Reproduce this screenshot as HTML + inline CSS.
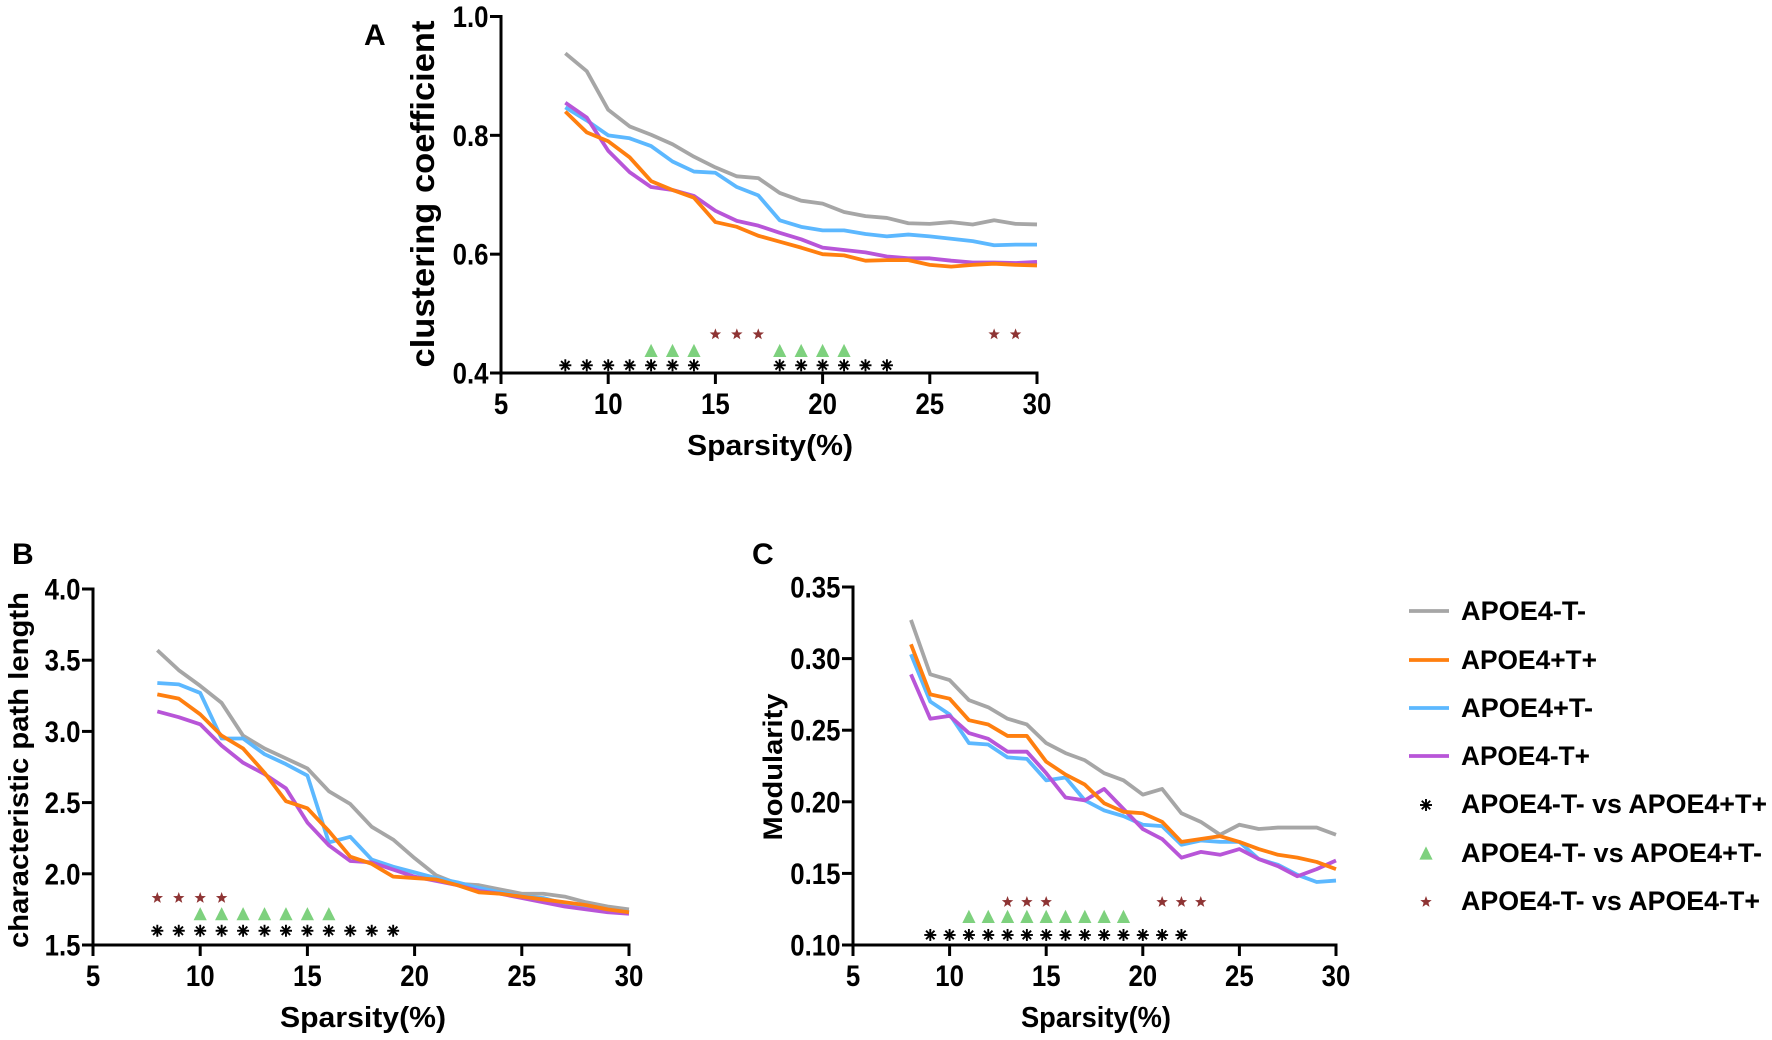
<!DOCTYPE html>
<html>
<head>
<meta charset="utf-8">
<title>Network metrics by sparsity</title>
<style>
html,body{margin:0;padding:0;background:#fff;}
svg{display:block;}
text{font-family:"Liberation Sans",Arial,sans-serif;font-weight:bold;fill:#000;}
</style>
</head>
<body>
<svg id="figure" width="1772" height="1040" viewBox="0 0 1772 1040" xmlns="http://www.w3.org/2000/svg">
  <rect x="0" y="0" width="1772" height="1040" fill="#fff"/>
  <g id="panels"></g>
  <g id="legend">
    <g>
      <line x1="1409" x2="1449" y1="611" y2="611" stroke="#A6A6A6" stroke-width="3.8"/>
      <text x="1461" y="620" font-size="27" textLength="125" lengthAdjust="spacingAndGlyphs">APOE4-T-</text>
    </g>
    <g>
      <line x1="1409" x2="1449" y1="660" y2="660" stroke="#FF7F0F" stroke-width="3.8"/>
      <text x="1461" y="669" font-size="27" textLength="136" lengthAdjust="spacingAndGlyphs">APOE4+T+</text>
    </g>
    <g>
      <line x1="1409" x2="1449" y1="708" y2="708" stroke="#5CB8FF" stroke-width="3.8"/>
      <text x="1461" y="717" font-size="27" textLength="132" lengthAdjust="spacingAndGlyphs">APOE4+T-</text>
    </g>
    <g>
      <line x1="1409" x2="1449" y1="756" y2="756" stroke="#B855D8" stroke-width="3.8"/>
      <text x="1461" y="765" font-size="27" textLength="129" lengthAdjust="spacingAndGlyphs">APOE4-T+</text>
    </g>
    <g>
      <g id="legend-asterisk"></g>
      <text x="1461" y="813" font-size="27" textLength="306" lengthAdjust="spacingAndGlyphs">APOE4-T- vs APOE4+T+</text>
    </g>
    <g>
      <g id="legend-triangle"></g>
      <text x="1461" y="862" font-size="27" textLength="301" lengthAdjust="spacingAndGlyphs">APOE4-T- vs APOE4+T-</text>
    </g>
    <g>
      <g id="legend-star"></g>
      <text x="1461" y="910" font-size="27" textLength="299" lengthAdjust="spacingAndGlyphs">APOE4-T- vs APOE4-T+</text>
    </g>
  </g>
</svg>
<script>
// Shared x categories and ticks
const sparsity = [8,9,10,11,12,13,14,15,16,17,18,19,20,21,22,23,24,25,26,27,28,29,30];
const xTicks = [5,10,15,20,25,30];

// Panel A values
const aGrey = [0.938,0.908,0.843,0.815,0.801,0.785,0.764,0.746,0.731,0.728,0.703,0.690,0.685,0.671,0.664,0.661,0.652,0.651,0.654,0.650,0.657,0.651,0.650];
const aOrange = [0.840,0.805,0.790,0.763,0.723,0.708,0.695,0.654,0.646,0.631,0.621,0.611,0.600,0.598,0.589,0.590,0.590,0.582,0.579,0.582,0.584,0.582,0.581];
const aBlue = [0.847,0.825,0.800,0.795,0.782,0.756,0.739,0.737,0.713,0.699,0.657,0.646,0.640,0.640,0.634,0.630,0.633,0.630,0.626,0.622,0.615,0.616,0.616];
const aPurple = [0.855,0.830,0.774,0.738,0.713,0.708,0.698,0.673,0.656,0.648,0.636,0.625,0.611,0.607,0.603,0.596,0.593,0.593,0.589,0.586,0.586,0.585,0.587];
const aTicks = [0.4,0.6,0.8,1.0];
const aAsterisk = [8,9,10,11,12,13,14,18,19,20,21,22,23];
const aTriangle = [12,13,14,18,19,20,21];
const aStar = [15,16,17,28,29];
const aMarkerLevels = [0.413,0.438,0.465];

// Panel B values
const bGrey = [3.57,3.43,3.32,3.20,2.97,2.88,2.81,2.74,2.58,2.49,2.33,2.24,2.11,1.99,1.93,1.92,1.89,1.86,1.86,1.84,1.80,1.77,1.75];
const bOrange = [3.26,3.23,3.12,2.97,2.88,2.71,2.51,2.46,2.30,2.12,2.07,1.98,1.97,1.96,1.92,1.87,1.86,1.84,1.82,1.80,1.78,1.75,1.73];
const bBlue = [3.34,3.33,3.27,2.95,2.95,2.84,2.77,2.69,2.22,2.26,2.10,2.05,2.01,1.97,1.94,1.90,1.87,1.84,1.83,1.79,1.77,1.75,1.73];
const bPurple = [3.14,3.10,3.05,2.90,2.78,2.70,2.60,2.36,2.20,2.09,2.08,2.03,1.98,1.95,1.92,1.88,1.86,1.83,1.80,1.77,1.75,1.73,1.72];
const bTicks = [1.5,2.0,2.5,3.0,3.5,4.0];
const bAsterisk = [8,9,10,11,12,13,14,15,16,17,18,19];
const bTriangle = [10,11,12,13,14,15,16];
const bStar = [8,9,10,11];
const bMarkerLevels = [1.60,1.72,1.83];

// Panel C values
const cGrey = [0.327,0.289,0.285,0.271,0.266,0.258,0.254,0.241,0.234,0.229,0.220,0.215,0.205,0.209,0.192,0.186,0.177,0.184,0.181,0.182,0.182,0.182,0.177];
const cOrange = [0.310,0.275,0.272,0.257,0.254,0.246,0.246,0.228,0.219,0.212,0.199,0.193,0.192,0.186,0.172,0.174,0.176,0.172,0.167,0.163,0.161,0.158,0.153];
const cBlue = [0.303,0.270,0.261,0.241,0.240,0.231,0.230,0.215,0.217,0.201,0.194,0.190,0.184,0.183,0.170,0.173,0.172,0.172,0.160,0.156,0.149,0.144,0.145];
const cPurple = [0.289,0.258,0.260,0.248,0.244,0.235,0.235,0.220,0.203,0.201,0.209,0.195,0.181,0.174,0.161,0.165,0.163,0.167,0.160,0.155,0.148,0.153,0.159];
const cTicks = [0.10,0.15,0.20,0.25,0.30,0.35];
const cAsterisk = [9,10,11,12,13,14,15,16,17,18,19,20,21,22];
const cTriangle = [11,12,13,14,15,16,17,18,19];
const cStar = [13,14,15,21,22,23];
const cMarkerLevels = [0.107,0.120,0.130];

const NS = 'http://www.w3.org/2000/svg';
const COLORS = {grey:'#A6A6A6',orange:'#FF7F0F',blue:'#5CB8FF',purple:'#B855D8',tri:'#7ED17E',star:'#8E3434',ast:'#000'};

function mk(tag, attrs, parent){
  const el = document.createElementNS(NS, tag);
  for (const k in attrs) el.setAttribute(k, attrs[k]);
  parent.appendChild(el);
  return el;
}

function drawAsterisk(parent, cx, cy, r){
  const g = mk('g', {}, parent);
  
  
  for (let i = 0; i < 4; i++){
    const a = i * Math.PI / 4 + Math.PI / 2;
    const dx = Math.cos(a) * r, dy = Math.sin(a) * r;
    mk('line', {x1:cx-dx, y1:cy-dy, x2:cx+dx, y2:cy+dy, stroke:COLORS.ast, 'stroke-width':1.9}, g);
  }
}

function drawTriangle(parent, cx, cy, r){
  const t = mk('polygon', {points:(cx-r)+','+(cy+r)+' '+cx+','+(cy-r)+' '+(cx+r)+','+(cy+r), fill:COLORS.tri}, parent);
  
  
}

function drawStar(parent, cx, cy, r){
  const pts = [];
  for (let i = 0; i < 10; i++){
    const rad = i % 2 ? r * 0.42 : r;
    const a = -Math.PI / 2 + i * Math.PI / 5;
    pts.push((cx + Math.cos(a) * rad).toFixed(2) + ',' + (cy + Math.sin(a) * rad).toFixed(2));
  }
  const s = mk('polygon', {points:pts.join(' '), fill:COLORS.star}, parent);
  
  
}

function tickText(parent, x, y, str, anchor){
  const t = mk('text', {transform:'translate('+x+','+y+') scale(0.86,1)', 'font-size':30, 'text-anchor':anchor}, parent);
  t.textContent = str;
  
  
  return t;
}

function drawPanel(p){
  const root = document.getElementById('panels');
  const g = mk('g', {}, root);
  
  

  const sx = v => p.x0 + (v - 5) / 25 * (p.x1 - p.x0);
  const sy = v => p.y1 + (v - p.yMin) / (p.yMax - p.yMin) * (p.y0 - p.y1);

  // axes
  const yAxis = mk('line', {x1:p.x0, x2:p.x0, y1:p.y0-1.5, y2:p.y1+1.5, stroke:'#000','stroke-width':3}, g);
  
  
  const xAxis = mk('line', {x1:p.x0-1.5, x2:p.x1+1.5, y1:p.y1, y2:p.y1, stroke:'#000','stroke-width':3}, g);
  
  

  xTicks.forEach(v => {
    const tk = mk('line', {x1:sx(v), x2:sx(v), y1:p.y1, y2:p.y1+11, stroke:'#000','stroke-width':3}, g);
    
    
    tickText(g, sx(v), p.y1+41, String(v), 'middle');
  });
  p.yTicks.forEach(v => {
    const y = sy(v);
    const tk = mk('line', {x1:p.x0-11, x2:p.x0, y1:y, y2:y, stroke:'#000','stroke-width':3}, g);
    
    
    tickText(g, p.x0-12.5, y+10.5, v.toFixed(p.dec), 'end');
  });

  // titles
  const xt = mk('text', {x:p.xTitleX, y:p.y1+p.xTitleDrop, 'font-size':29, 'text-anchor':'middle', textLength:p.xTitleLen, lengthAdjust:'spacingAndGlyphs'}, g);
  xt.textContent = 'Sparsity(%)';
  
  
  const yt = mk('text', {transform:'translate('+p.yTitleX+','+p.yTitleY+') rotate(-90)', 'font-size':p.yTitleSize, 'text-anchor':'middle', textLength:p.yTitleLen, lengthAdjust:'spacingAndGlyphs'}, g);
  yt.textContent = p.yTitle;
  
  
  const pl = mk('text', {x:p.letterX, y:p.letterY, 'font-size':30}, g);
  pl.textContent = p.letter;
  
  

  // significance markers
  p.asterisk.forEach(v => drawAsterisk(g, sx(v), sy(p.levels[0]), 6));
  p.triangle.forEach(v => drawTriangle(g, sx(v), sy(p.levels[1]), 6.6));
  p.star.forEach(v => drawStar(g, sx(v), sy(p.levels[2]), 6));

  // series
  [['grey',p.grey],['blue',p.blue],['purple',p.purple],['orange',p.orange]].forEach(pair => {
    const pts = sparsity.map((s,i) => sx(s).toFixed(2)+','+sy(pair[1][i]).toFixed(2)).join(' ');
    const line = mk('polyline', {points:pts, fill:'none', stroke:COLORS[pair[0]], 'stroke-width':3.8, 'stroke-linejoin':'round'}, g);
    
    
  });
}

drawPanel({name:'panel-a-clustering-coefficient', letter:'A', letterX:364, letterY:45,
  x0:501, x1:1037, y0:16.5, y1:373, yMin:0.4, yMax:1.0, dec:1, yTicks:aTicks,
  yTitle:'clustering coefficient', yTitleX:434, yTitleY:194, yTitleSize:33, yTitleLen:347, xTitleX:770, xTitleLen:166, xTitleDrop:82,
  grey:aGrey, orange:aOrange, blue:aBlue, purple:aPurple,
  asterisk:aAsterisk, triangle:aTriangle, star:aStar, levels:aMarkerLevels});

drawPanel({name:'panel-b-characteristic-path-length', letter:'B', letterX:12, letterY:564,
  x0:93, x1:629, y0:589, y1:945, yMin:1.5, yMax:4.0, dec:1, yTicks:bTicks,
  yTitle:'characteristic path length', yTitleX:28, yTitleY:770, yTitleSize:28, yTitleLen:356, xTitleX:363, xTitleLen:166, xTitleDrop:82,
  grey:bGrey, orange:bOrange, blue:bBlue, purple:bPurple,
  asterisk:bAsterisk, triangle:bTriangle, star:bStar, levels:bMarkerLevels});

drawPanel({name:'panel-c-modularity', letter:'C', letterX:752, letterY:564,
  x0:853, x1:1336, y0:587, y1:945, yMin:0.10, yMax:0.35, dec:2, yTicks:cTicks,
  yTitle:'Modularity', yTitleX:782, yTitleY:767, yTitleSize:27, yTitleLen:147, xTitleX:1096, xTitleLen:150, xTitleDrop:82,
  grey:cGrey, orange:cOrange, blue:cBlue, purple:cPurple,
  asterisk:cAsterisk, triangle:cTriangle, star:cStar, levels:cMarkerLevels});

drawAsterisk(document.getElementById('legend-asterisk'), 1426, 805, 6);
drawTriangle(document.getElementById('legend-triangle'), 1426, 853, 6.6);
drawStar(document.getElementById('legend-star'), 1426, 902, 6);
</script>
</body>
</html>
